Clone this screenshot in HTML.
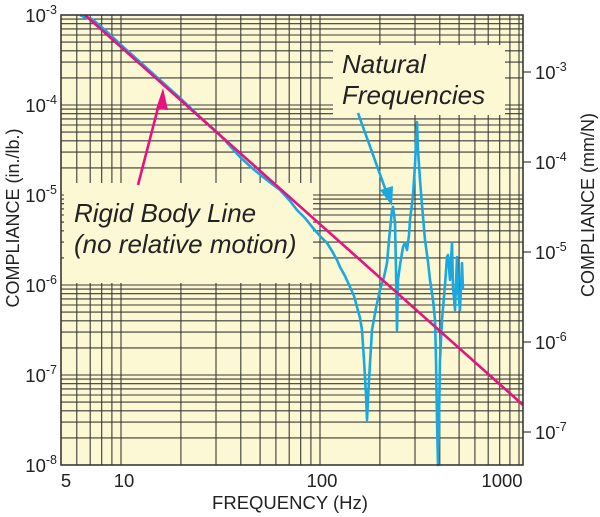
<!DOCTYPE html>
<html><head><meta charset="utf-8"><style>
html,body{margin:0;padding:0;background:#fff}
svg{display:block}
text{font-family:"Liberation Sans",sans-serif;fill:#222}
</style></head><body>
<svg width="600" height="517" viewBox="0 0 600 517">
<defs>
<g id="dec" stroke="#3a3a36" stroke-width="1.1">
<line x1="61" x2="523" y1="19.1" y2="19.1"/><line x1="61" x2="523" y1="23.7" y2="23.7"/><line x1="61" x2="523" y1="28.9" y2="28.9"/><line x1="61" x2="523" y1="35" y2="35"/><line x1="61" x2="523" y1="42.1" y2="42.1"/><line x1="61" x2="523" y1="50.8" y2="50.8"/><line x1="61" x2="523" y1="62.1" y2="62.1"/><line x1="61" x2="523" y1="77.9" y2="77.9"/><line x1="61" x2="523" y1="105" y2="105"/>
</g>
</defs>
<rect x="61" y="15" width="462" height="450" fill="#fdf8d4"/>
<use href="#dec"/><use href="#dec" y="90"/><use href="#dec" y="180"/><use href="#dec" y="270"/><use href="#dec" y="360"/>
<g stroke="#3a3a36" stroke-width="1.1">
<line x1="76.8" x2="76.8" y1="15" y2="465"/><line x1="90.2" x2="90.2" y1="15" y2="465"/><line x1="101.7" x2="101.7" y1="15" y2="465"/><line x1="111.9" x2="111.9" y1="15" y2="465"/><line x1="121" x2="121" y1="15" y2="465"/>
<line x1="180.9" x2="180.9" y1="15" y2="465"/><line x1="216" x2="216" y1="15" y2="465"/><line x1="240.8" x2="240.8" y1="15" y2="465"/><line x1="260.1" x2="260.1" y1="15" y2="465"/><line x1="275.9" x2="275.9" y1="15" y2="465"/><line x1="289.2" x2="289.2" y1="15" y2="465"/><line x1="300.7" x2="300.7" y1="15" y2="465"/><line x1="310.9" x2="310.9" y1="15" y2="465"/><line x1="320" x2="320" y1="15" y2="465"/>
<line x1="379.9" x2="379.9" y1="15" y2="465"/><line x1="415" x2="415" y1="15" y2="465"/><line x1="439.8" x2="439.8" y1="15" y2="465"/><line x1="459.1" x2="459.1" y1="15" y2="465"/><line x1="474.9" x2="474.9" y1="15" y2="465"/><line x1="488.2" x2="488.2" y1="15" y2="465"/><line x1="499.7" x2="499.7" y1="15" y2="465"/><line x1="509.9" x2="509.9" y1="15" y2="465"/><line x1="519" x2="519" y1="15" y2="465"/>
</g>
<rect x="64" y="183" width="249" height="100" fill="#fdf8d4"/>
<rect x="333" y="45" width="172" height="70" fill="#fdf8d4"/>
<polyline fill="none" stroke="#1aa8e0" stroke-width="2.6" stroke-linejoin="round" points="80,15 86,18 92,19 98,24 106,31 120,44 140,62 160,80 180,98 200,117 220,135 240,157 252,168 263,177 272,184 280,190 290,201 297,210 305,218 313,228 320,236 327,243 332,251 337,260 340,267 345,276 350,287 354,296 357,307 360,318 362,330 364,360 366,395 367,420 369,380 372,330 376,308 380,290 384,277 387,263 389,240 392,210 393,207 394,214 395,223 396,270 397,330 398,280 400,265 403,247 405,243 407,250 409,235 410,220 413,195 415,165 417,122 418,150 420,180 422,205 425,240 428,262 430,280 433,300 435,320 436,360 437,420 438,465 439,420 440,360 442,320 445,285 447,257 448,255 450,280 452,243 453,287 455,310 457,257 458,290 460,310 462,263 463,290"/>
<line x1="85" y1="15" x2="523" y2="405" stroke="#e6127f" stroke-width="2.6"/>
<rect x="61" y="15" width="462" height="450" fill="none" stroke="#3a3a36" stroke-width="1.6"/>
<line x1="138" y1="185" x2="159" y2="104" stroke="#e6127f" stroke-width="2.6"/>
<polygon points="163,88 156,109 168,110" fill="#e6127f"/>
<line x1="358" y1="113" x2="386" y2="191" stroke="#1aa8e0" stroke-width="2.6"/>
<polygon points="392,206 380,190 393,186" fill="#1aa8e0"/>
<text x="74" y="222" font-size="26" font-style="italic">Rigid Body Line</text>
<text x="74" y="253" font-size="26" font-style="italic">(no relative motion)</text>
<text x="342" y="73" font-size="26" font-style="italic">Natural</text>
<text x="342" y="104" font-size="26" font-style="italic">Frequencies</text>
<g font-size="18.5" text-anchor="end">
<text x="57" y="22">10<tspan font-size="12.5" dy="-8">-3</tspan></text>
<text x="57" y="112">10<tspan font-size="12.5" dy="-8">-4</tspan></text>
<text x="57" y="202">10<tspan font-size="12.5" dy="-8">-5</tspan></text>
<text x="57" y="292">10<tspan font-size="12.5" dy="-8">-6</tspan></text>
<text x="57" y="382">10<tspan font-size="12.5" dy="-8">-7</tspan></text>
<text x="57" y="472">10<tspan font-size="12.5" dy="-8">-8</tspan></text>
</g>
<g stroke="#3a3a36" stroke-width="1.2">
<line x1="523" x2="531" y1="72" y2="72"/><line x1="523" x2="531" y1="162" y2="162"/><line x1="523" x2="531" y1="252" y2="252"/><line x1="523" x2="531" y1="342" y2="342"/><line x1="523" x2="531" y1="432" y2="432"/>
</g>
<g font-size="18.5">
<text x="535" y="79">10<tspan font-size="12.5" dy="-8">-3</tspan></text>
<text x="535" y="169">10<tspan font-size="12.5" dy="-8">-4</tspan></text>
<text x="535" y="259">10<tspan font-size="12.5" dy="-8">-5</tspan></text>
<text x="535" y="349">10<tspan font-size="12.5" dy="-8">-6</tspan></text>
<text x="535" y="439">10<tspan font-size="12.5" dy="-8">-7</tspan></text>
</g>
<g font-size="18.5" text-anchor="middle">
<text x="66" y="487">5</text>
<text x="124" y="487">10</text>
<text x="322" y="487">100</text>
<text x="502" y="487">1000</text>
</g>
<text x="290" y="509" font-size="18.5" text-anchor="middle">FREQUENCY (Hz)</text>
<text transform="translate(19,218) rotate(-90)" font-size="18" text-anchor="middle">COMPLIANCE (in./lb.)</text>
<text transform="translate(594,205) rotate(-90)" font-size="18" text-anchor="middle">COMPLIANCE (mm/N)</text>
</svg>
</body></html>
